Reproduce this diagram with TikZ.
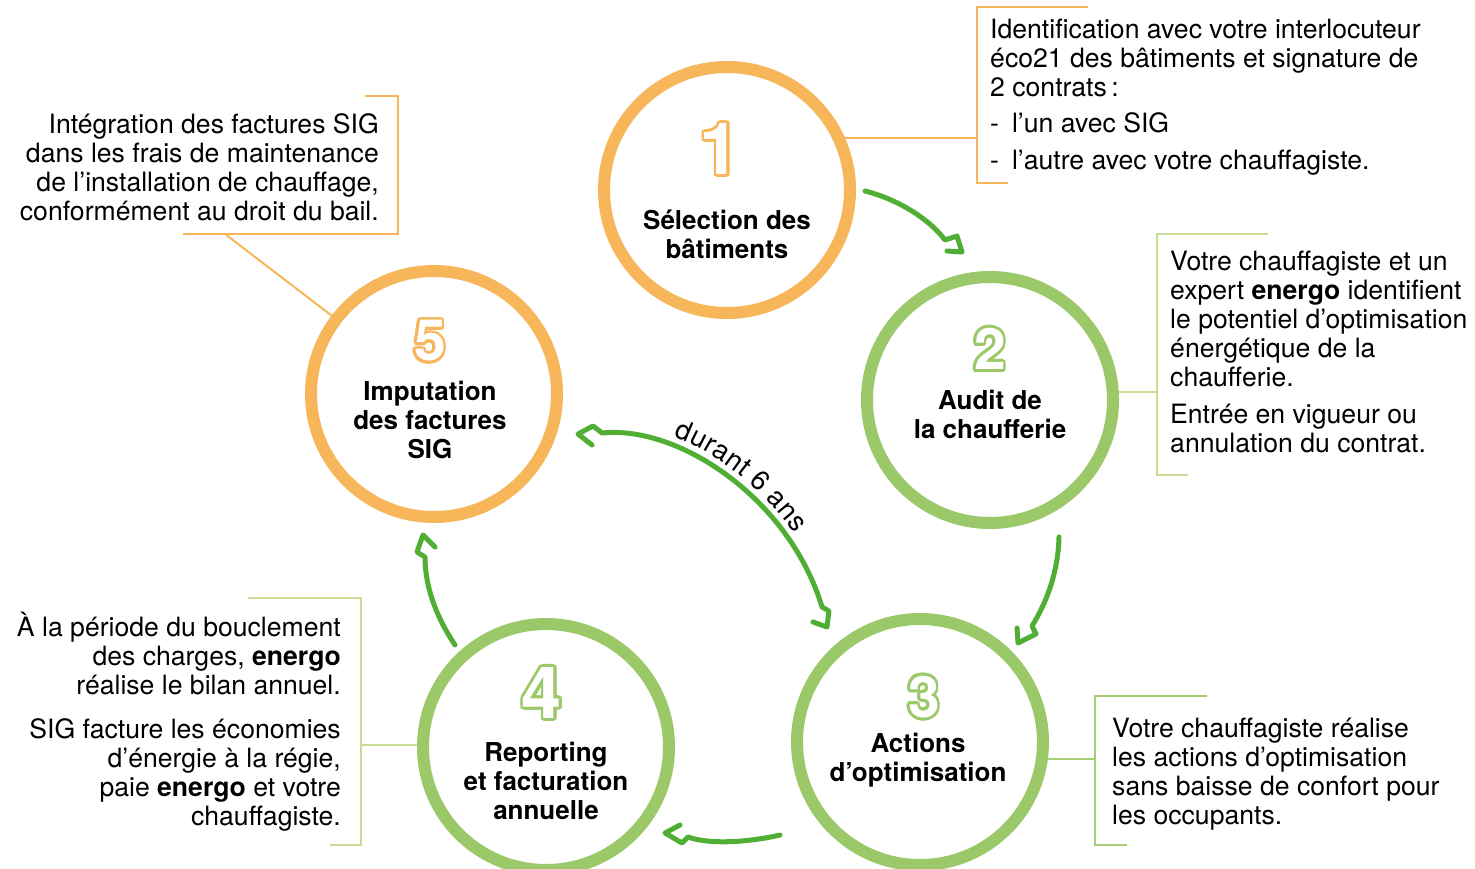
\documentclass[tikz,border=0pt]{standalone}
\usepackage{fontspec}
\setmainfont{TeX Gyre Heros}
\usetikzlibrary{decorations.text}
\definecolor{orng}{RGB}{247,182,90}
\definecolor{lgreen}{RGB}{155,201,106}
\definecolor{agreen}{RGB}{80,174,52}
\definecolor{pgreen}{RGB}{200,222,150}
\definecolor{mgreen}{RGB}{165,206,118}
\newcommand\fl{\rule{0pt}{24pt}}
\newcommand\outdigit[5]{%
  \foreach \a in {0,20,...,340}
    \node[digit, font=\fontsize{#5}{#5}\selectfont\bfseries, text=#3, shift={(\a:2.8pt)}] at #1 {#2};
  \node[digit, font=\fontsize{#5}{#5}\selectfont\bfseries, text=white] (#4) at #1 {#2};}
\tikzset{
  ring/.style={circle, draw=#1, fill=white, line width=12pt, minimum size=246pt, inner sep=0pt},
  digit/.style={inner sep=0pt, anchor=center},
  lab/.style={font=\fontsize{26}{29}\selectfont\bfseries, align=center, inner sep=0pt},
  body/.style={font=\fontsize{26.6}{29}\selectfont, inner sep=0pt},
  obr/.style={draw=orng, line width=2pt},
  gbr/.style={draw=#1, line width=2pt},
  arr/.style={draw=agreen, line width=5pt, line cap=round, line join=round},
}
\begin{document}
\begin{tikzpicture}[x=1pt,y=-1pt]
\fill[white] (0,0) rectangle (1475,869);
\path[use as bounding box] (0,0) rectangle (1475,869);

% centres
\coordinate (p1) at (727,190);
\coordinate (p2) at (990,400);
\coordinate (p3) at (920,742);
\coordinate (p4) at (546,747);
\coordinate (p5) at (434,394);

% bracket anchors
\coordinate (b1) at (977,138);
\coordinate (b2) at (1157,392);
\coordinate (b3) at (1095,759);
\coordinate (b4) at (361,745);
\coordinate (b5) at (225,234);

% brackets and connectors
\draw[obr] (1088,7) -- (977,7) -- (977,183) -- (1008,183);
\draw[obr] (b1) -- (b1 -| p1);
\draw[gbr=pgreen] (1268,234) -- (1157,234) -- (1157,475) -- (1188,475);
\draw[gbr=pgreen] (b2) -- (b2 -| p2);
\draw[gbr=mgreen] (1207,696) -- (1095,696) -- (1095,845) -- (1127,845);
\draw[gbr=mgreen] (b3) -- (b3 -| p3);
\draw[gbr=pgreen] (248,598) -- (361,598) -- (361,845) -- (330,845);
\draw[gbr=pgreen] (b4) -- (b4 -| p4);
\draw[obr] (365,96) -- (398,96) -- (398,234) -- (183,234);
\draw[obr] (b5) -- (p5);

% circles
\node[ring=orng] (c1) at (p1) {};
\node[ring=lgreen] (c2) at (p2) {};
\node[ring=lgreen] (c3) at (p3) {};
\node[ring=lgreen] (c4) at (p4) {};
\node[ring=orng] (c5) at (p5) {};

% digits
\outdigit{(720,149)}{1}{orng}{d1}{72}
\outdigit{(990,349)}{2}{lgreen}{d2}{57}
\outdigit{(924,697)}{3}{lgreen}{d3}{57}
\outdigit{(542,693)}{4}{lgreen}{d4}{72}
\outdigit{(430,341)}{5}{orng}{d5}{57}

% labels
\node[lab] (l1) at (727,234.5) {Sélection des\\bâtiments};
\node[lab] (l2) at (990,414) {Audit de\\la chaufferie};
\node[lab] (l3) at (918,760) {Actions\\d’optimisation};
\node[lab] (l4) at (546,780.5) {Reporting\\et facturation\\annuelle};
\node[lab] (l5) at (430,420) {Imputation\\des factures\\SIG};

% arrows
\coordinate (a1s) at (865,191);
\coordinate (a1e) at (945,240);
\draw[arr] (a1s) .. controls (900,200) and (930,220) .. (a1e) -- (957,236) -- (962,252) -- (947,251);
\coordinate (a2s) at (1059,537);
\coordinate (a2e) at (1032,626);
\draw[arr] (a2s) .. controls (1058,575) and (1045,605) .. (a2e) -- (1036,634) -- (1018,643) -- (1017,628);
\coordinate (a3s) at (780,835);
\coordinate (a3e) at (688,837);
\draw[arr] (a3s) .. controls (750,842) and (710,845) .. (a3e) -- (682,843) -- (665,833) -- (680,825);
\coordinate (a4s) at (455,645);
\coordinate (a4e) at (425,557);
\draw[arr] (a4s) .. controls (435,615) and (425,585) .. (a4e) -- (417,552) -- (423,535) -- (435,547);
\coordinate (a5s) at (602,433);
\coordinate (a5e) at (822,607);
\draw[arr] (592,445) -- (578,434) -- (593,426) -- (a5s) .. controls (680,425) and (790,500) .. (a5e) -- (829,611) -- (827,627) -- (813,622);
\path[decorate, decoration={text along path, raise=8pt,
   text align={left indent=70pt},
   text={|\fontsize{27.5}{29}\selectfont|durant 6 ans}}]
   (a5s) .. controls (680,425) and (790,500) .. (a5e);

% callout texts
\node[body, align=left, anchor=north west] (t1) at (990,14.5)
 {\fl Identification avec votre interlocuteur\\
  éco21 des bâtiments et signature de\\
  2 contrats\,:\\[7pt]
  -\hspace{13pt}l’un avec SIG\\[8pt]
  -\hspace{13pt}l’autre avec votre chauffagiste.};
\node[body, align=left, anchor=north west] (t2) at (1170,246)
 {\fl Votre chauffagiste et un\\
  expert \textbf{energo} identifient\\
  le potentiel d’optimisation\\
  énergétique de la\\
  chaufferie.\\[8pt]
  Entrée en vigueur ou\\
  annulation du contrat.};
\node[body, align=left, anchor=north west] (t3) at (1112,713)
 {\fl Votre chauffagiste réalise\\
  les actions d’optimisation\\
  sans baisse de confort pour\\
  les occupants.};
\node[body, align=right, anchor=north east] (t4) at (341,612)
 {\fl À la période du bouclement\\
  des charges, \textbf{energo}\\
  réalise le bilan annuel.\\[15pt]
  SIG facture les économies\\
  d’énergie à la régie,\\
  paie \textbf{energo} et votre\\
  chauffagiste.};
\node[body, align=right, anchor=north east] (t5) at (379,109)
 {\fl Intégration des factures SIG\\
  dans les frais de maintenance\\
  de l’installation de chauffage,\\
  conformément au droit du bail.};
\end{tikzpicture}
\end{document}
